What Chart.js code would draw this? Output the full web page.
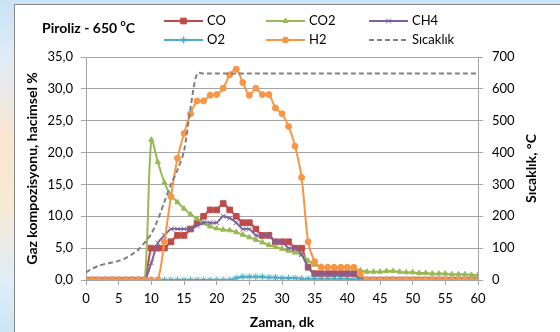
<!DOCTYPE html>
<html>
<head>
<meta charset="utf-8">
<script src="https://cdn.jsdelivr.net/npm/chart.js@4.4.1/dist/chart.umd.min.js"></script>
<style>
  html, body { margin: 0; padding: 0; }
  body {
    width: 560px; height: 332px; overflow: hidden; position: relative;
    background: linear-gradient(to bottom, #c9e3f5 0%, #e0ecf6 18%, #fbe6cf 42%, #f7ebd6 62%, #dfeef8 85%, #cce5f5 100%);
  }
  #kutu { position: absolute; left: 14px; top: 4px; width: 600px; height: 400px; background: #fff; border: 1px solid #8a8a8a; }
  #c { position: absolute; left: 0; top: 0; }
</style>
</head>
<body>
<div id="kutu"></div>
<canvas id="c" width="560" height="332"></canvas>
<script>
// zaman (dk)
var zaman = [0,1,2,3,4,5,6,7,8,9,10,11,12,13,14,15,16,17,18,19,20,21,22,23,24,25,26,27,28,29,30,
             31,32,33,34,35,36,37,38,39,40,41,42,43,44,45,46,47,48,49,50,51,52,53,54,55,56,57,58,59,60];

// gaz kompozisyonu, hacimsel %
var co  = [0,0,0,0,0,0,0,0,0,0, 5,5,5,6,7,7,8,9,10,11,11,12,11,10,9,9,8,7,7,6,6,
           6,5,5,2,1,1,1,1,1,1,1, 0,0,0,0,0,0,0,0,0,0,0,0,0,0,0,0,0,0,0];
var co2 = [0,0,0,0,0,0,0,0,0,0, 22,18.5,15.3,13.3,12.2,11.2,10.3,9.6,8.9,8.4,8.1,7.9,7.8,7.5,7.1,6.7,6.3,5.9,5.5,5.2,4.9,
           4.6,4.3,4.0,3.0,2.4,2.1,2.0,1.9,1.9,1.9,1.8,1.5,1.3,1.3,1.3,1.4,1.4,1.3,1.2,1.2,1.1,1.1,1.0,1.0,1.0,0.9,0.9,0.9,0.8,0.8];
var ch4 = [0,0,0,0,0,0,0,0,0,0, 2.7,5.8,7,8,8,8,8,8.5,9,9,9,10,9.7,9,8,8,7,7,7,6,6,
           5,5,4,2,1,1,1,1,1,1,1, 0,0,0,0,0,0,0,0,0,0,0,0,0,0,0,0,0,0,0];
var o2  = [0,0,0,0,0,0,0,0,0,0,0,0,0,0,0,0,0,0,0,0,0,0,0,0.3,0.5,0.5,0.5,0.5,0.4,0.4,0.3,
           0.3,0.3,0.2,0.2,0.2,0.2,0.2,0.2,0.2,0.2,0.1, 0,0,0,0,0,0,0,0,0,0,0,0,0,0,0,0,0,0,0];
var h2  = [0,0,0,0,0,0,0,0,0,0,0,0, 6,13.1,19.1,23,26.1,28.1,28.1,29,29.1,30.1,32.2,33.1,31,29,30.1,29.1,29.1,27,26.1,
           24.1,21,16.1,6,2.9,2,2,2,2,2,2,1, 0,0,0,0,0,0,0,0,0,0,0,0,0,0,0,0,0,0];
// sıcaklık (°C)
var sicaklik = [24,36,45,51,55,60,68,80,95,118,145,190,245,300,345,405,540,648,648,648,648,648,648,648,648,648,648,648,648,648,648,
                648,648,648,648,648,648,648,648,648,648,648,648,648,648,648,648,648,648,648,648,648,648,648,648,648,648,648,648,648,648];

var seriAdlari = ['CO', 'CO2', 'CH4', 'O2', 'H2', 'Sıcaklık'];

function noktalar(arr) {
  return arr.map(function (v, i) { return { x: zaman[i], y: v }; });
}

var gri = '#a5a5a5';
var yaziFont = 'Lato';

function seri(ad, arr, renk, stil, r, sira) {
  return {
    label: ad,
    data: noktalar(arr),
    borderColor: renk,
    backgroundColor: renk,
    pointBackgroundColor: renk,
    pointBorderColor: renk,
    pointBorderWidth: 1,
    pointStyle: stil,
    pointRadius: r,
    borderWidth: 2,
    tension: 0.3,
    order: sira,
    yAxisID: 'y'
  };
}

var datasets = [
  seri(seriAdlari[0], co,  '#be4b48', 'rect', 4, 6),
  seri(seriAdlari[1], co2, '#98b954', 'triangle', 3, 5),
  seri(seriAdlari[2], ch4, '#7d60a0', 'crossRot', 3.5, 4),
  seri(seriAdlari[3], o2,  '#4bacc6', 'star', 3.5, 3),
  seri(seriAdlari[4], h2,  '#f79646', 'circle', 3, 2),
  {
    label: seriAdlari[5],
    data: noktalar(sicaklik),
    borderColor: '#808080',
    borderDash: [5, 3],
    borderWidth: 2,
    pointRadius: 0,
    tension: 0.3,
    order: 1,
    yAxisID: 'y1'
  }
];

// başlık, eksen yazıları ve lejant
var yazilar = {
  id: 'yazilar',
  afterDraw: function (chart) {
    var ctx = chart.ctx;
    var a = chart.chartArea;
    ctx.save();
    ctx.fillStyle = '#000';
    ctx.textBaseline = 'middle';
    ctx.textAlign = 'left';

    ctx.font = 'bold 14px ' + yaziFont;
    var x = 42;
    ctx.fillText('Piroliz - 650 ', x, 28);
    x += ctx.measureText('Piroliz - 650 ').width;
    ctx.font = 'bold 9px ' + yaziFont;
    ctx.fillText('o', x, 23);
    x += ctx.measureText('o').width;
    ctx.font = 'bold 14px ' + yaziFont;
    ctx.fillText('C', x, 28);

    ctx.font = 'bold 14px ' + yaziFont;
    ctx.textAlign = 'center';
    var orta = (a.top + a.bottom) / 2;
    ctx.fillText('Zaman, dk', (a.left + a.right) / 2, 322);
    ctx.save();
    ctx.translate(32, orta);
    ctx.rotate(-Math.PI / 2);
    ctx.fillText('Gaz kompozisyonu, hacimsel %', 0, 0);
    ctx.restore();
    ctx.save();
    ctx.translate(531, orta);
    ctx.rotate(-Math.PI / 2);
    ctx.fillText('Sıcaklık, °C', 0, 0);
    ctx.restore();

    // lejant: 3 sütun, 2 satır
    var sutunlar = [164, 266, 369];
    var satirlar = [21, 40];
    ctx.font = '13px ' + yaziFont;
    ctx.textAlign = 'left';
    chart.data.datasets.forEach(function (ds, i) {
      var x1 = sutunlar[i % 3], x2 = x1 + 39, y = satirlar[Math.floor(i / 3)];
      ctx.save();
      ctx.strokeStyle = ds.borderColor;
      ctx.lineWidth = 2;
      ctx.setLineDash(ds.borderDash || []);
      ctx.beginPath();
      ctx.moveTo(x1, y);
      ctx.lineTo(x2, y);
      ctx.stroke();
      ctx.setLineDash([]);
      if (ds.pointRadius > 0) {
        ctx.fillStyle = ds.pointBackgroundColor;
        ctx.lineWidth = 1;
        Chart.helpers.drawPoint(ctx, { pointStyle: ds.pointStyle, radius: ds.pointRadius, rotation: 0, borderWidth: 1 }, (x1 + x2) / 2, y);
      }
      ctx.restore();
      ctx.fillText(ds.label, x2 + 4, y);
    });
    ctx.restore();
  }
};

new Chart(document.getElementById('c'), {
  type: 'line',
  data: { datasets: datasets },
  plugins: [yazilar],
  options: {
    responsive: false,
    devicePixelRatio: 1,
    animation: false,
    layout: { padding: { top: 57, left: 0, right: 0, bottom: 0 } },
    plugins: { legend: { display: false }, tooltip: { enabled: false } },
    scales: {
      x: {
        type: 'linear',
        min: 0, max: 60,
        ticks: { stepSize: 5, color: '#000', padding: 6, font: { family: yaziFont, size: 13 } },
        grid: { drawOnChartArea: false, drawTicks: true, tickLength: 5, color: gri },
        border: { color: gri },
        afterFit: function (s) { s.height = 52; }
      },
      y: {
        position: 'left',
        min: 0, max: 35,
        ticks: {
          stepSize: 5, color: '#000', padding: 8, font: { family: yaziFont, size: 13 },
          callback: function (v) { return v.toFixed(1).replace('.', ','); }
        },
        grid: { color: gri, tickLength: 5 },
        border: { color: gri },
        afterFit: function (s) { s.width = 86; }
      },
      y1: {
        position: 'right',
        min: 0, max: 700,
        ticks: { stepSize: 100, color: '#000', padding: 9, font: { family: yaziFont, size: 13 } },
        grid: { drawOnChartArea: false, tickLength: 5, color: gri },
        border: { color: gri },
        afterFit: function (s) { s.width = 82; }
      }
    }
  }
});
</script>
</body>
</html>
